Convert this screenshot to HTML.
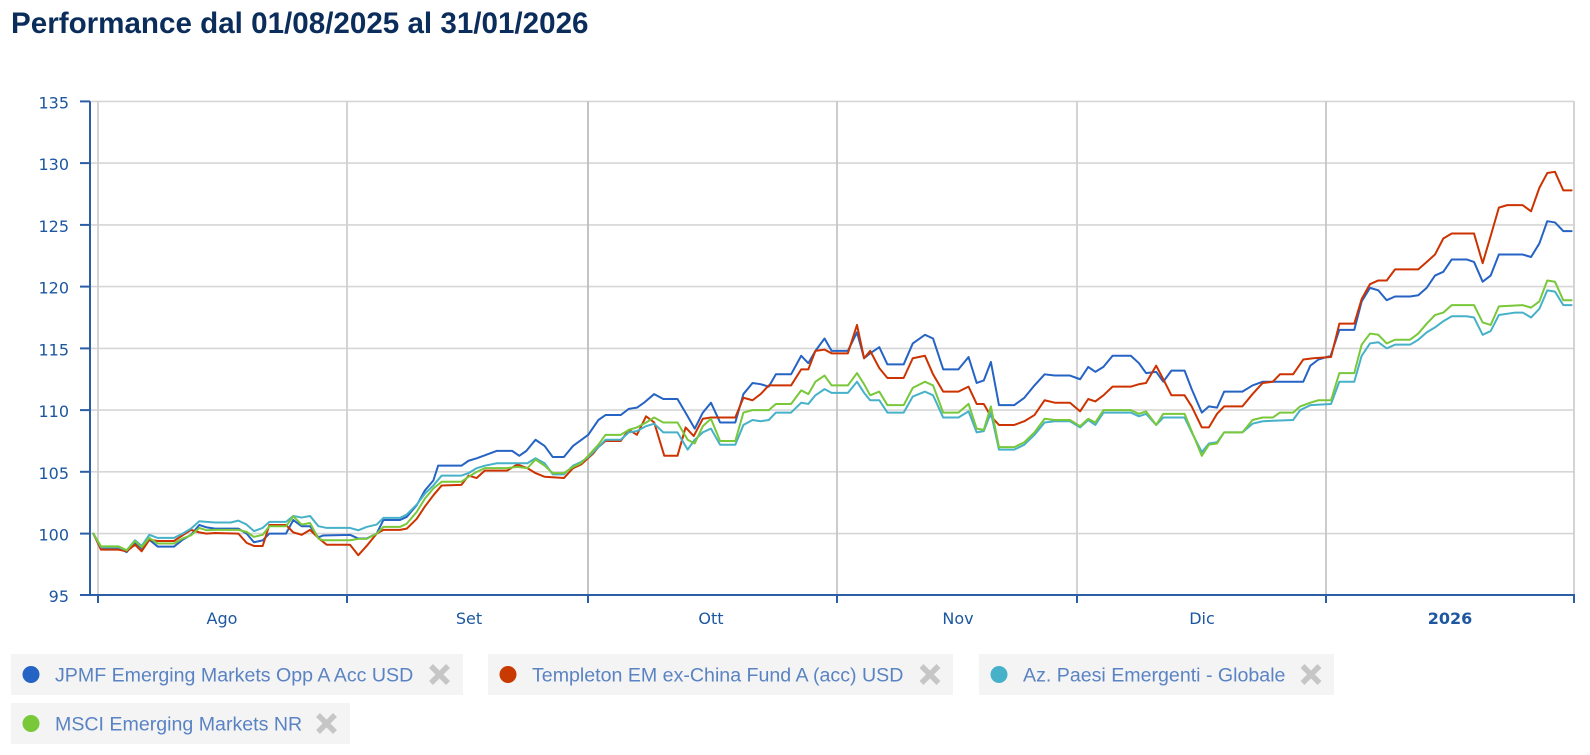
<!DOCTYPE html>
<html>
<head>
<meta charset="utf-8">
<style>
html,body{margin:0;padding:0;background:#fff;}
body{width:1590px;height:755px;overflow:hidden;}
svg{display:block;}
</style>
</head>
<body>
<svg width="1590" height="755" viewBox="0 0 1590 755" xmlns="http://www.w3.org/2000/svg">
  <rect x="0" y="0" width="1590" height="755" fill="#fff"/>
  <!-- Title -->
  <text x="11" y="33" font-family="Liberation Sans, Arial, sans-serif" font-weight="bold" font-size="29.6" fill="#0b2d5b">Performance dal 01/08/2025 al 31/01/2026</text>

  <!-- horizontal gridlines -->
  <g stroke="#d6d6d6" stroke-width="1.6">
    <line x1="90" y1="101.4" x2="1574" y2="101.4"/>
    <line x1="90" y1="163.1" x2="1574" y2="163.1"/>
    <line x1="90" y1="224.9" x2="1574" y2="224.9"/>
    <line x1="90" y1="286.6" x2="1574" y2="286.6"/>
    <line x1="90" y1="348.4" x2="1574" y2="348.4"/>
    <line x1="90" y1="410.1" x2="1574" y2="410.1"/>
    <line x1="90" y1="471.8" x2="1574" y2="471.8"/>
    <line x1="90" y1="533.6" x2="1574" y2="533.6"/>
  </g>
  <!-- vertical gridlines -->
  <g stroke="#d0d0d0" stroke-width="1.8">
    <line x1="98" y1="101.4" x2="98" y2="595"/>
    <line x1="347" y1="101.4" x2="347" y2="595"/>
    <line x1="588" y1="101.4" x2="588" y2="595" stroke="#bdbdbd"/>
    <line x1="837" y1="101.4" x2="837" y2="595" stroke="#c6c6c6"/>
    <line x1="1077" y1="101.4" x2="1077" y2="595"/>
    <line x1="1326" y1="101.4" x2="1326" y2="595" stroke="#c6c6c6"/>
    <line x1="1574" y1="101.4" x2="1574" y2="595"/>
  </g>

  <!-- axes -->
  <g stroke="#2a5fa5" stroke-width="2">
    <line x1="90" y1="101.4" x2="90" y2="595"/>
    <line x1="89" y1="595" x2="1575" y2="595"/>
    <line x1="80" y1="101.4" x2="90" y2="101.4"/>
    <line x1="80" y1="163.1" x2="90" y2="163.1"/>
    <line x1="80" y1="224.9" x2="90" y2="224.9"/>
    <line x1="80" y1="286.6" x2="90" y2="286.6"/>
    <line x1="80" y1="348.4" x2="90" y2="348.4"/>
    <line x1="80" y1="410.1" x2="90" y2="410.1"/>
    <line x1="80" y1="471.8" x2="90" y2="471.8"/>
    <line x1="80" y1="533.6" x2="90" y2="533.6"/>
    <line x1="80" y1="595" x2="90" y2="595"/>
    <line x1="98" y1="595" x2="98" y2="603"/>
    <line x1="347" y1="595" x2="347" y2="603"/>
    <line x1="588" y1="595" x2="588" y2="603"/>
    <line x1="837" y1="595" x2="837" y2="603"/>
    <line x1="1077" y1="595" x2="1077" y2="603"/>
    <line x1="1326" y1="595" x2="1326" y2="603"/>
    <line x1="1574" y1="595" x2="1574" y2="603"/>
  </g>

  <!-- y labels -->
  <g font-family="DejaVu Sans, Verdana, sans-serif" font-size="16" fill="#1d57a0" text-anchor="end">
    <text x="69" y="108.4">135</text>
    <text x="69" y="170.1">130</text>
    <text x="69" y="231.9">125</text>
    <text x="69" y="293.6">120</text>
    <text x="69" y="355.4">115</text>
    <text x="69" y="417.1">110</text>
    <text x="69" y="478.8">105</text>
    <text x="69" y="540.6">100</text>
    <text x="69" y="602">95</text>
  </g>
  <!-- x labels -->
  <g font-family="DejaVu Sans, Verdana, sans-serif" font-size="16" fill="#1d57a0" text-anchor="middle">
    <text x="222" y="624">Ago</text>
    <text x="469" y="624">Set</text>
    <text x="711" y="624">Ott</text>
    <text x="958" y="624">Nov</text>
    <text x="1202" y="624">Dic</text>
    <text x="1450" y="624" font-weight="bold">2026</text>
  </g>

  <!-- series -->
  <g transform="matrix(1.0142 0 0 -12.348 0 1768.4)" fill="none" stroke-width="2" stroke-linejoin="round" stroke-linecap="round">
    <polyline vector-effect="non-scaling-stroke" stroke="#2563c4" points="92,100 99.6,98.85 116.7,98.85 124.9,98.5 133.1,99.3 139.7,98.8 147.2,99.5 155.5,98.95 171.6,98.95 180.1,99.5 188.3,99.9 196.5,100.7 203.8,100.5 212,100.4 235,100.4 243.2,100 250.4,99.3 259,99.45 265.6,100 282,100 289.2,101.1 297.4,100.6 305.7,100.6 313.9,99.7 318.8,99.85 345.1,99.9 353.3,99.6 361.5,99.6 371.4,100 378,101.1 394.4,101.1 401,101.35 410.9,102.3 419,103.5 427.3,104.3 432,105.5 455,105.5 462,105.9 470,106.1 480,106.4 490,106.7 505,106.7 512,106.3 519,106.7 528,107.6 537,107.1 545,106.2 556,106.2 565,107.1 580,108 590,109.2 597,109.6 612,109.6 620,110.1 628,110.2 635,110.6 645,111.3 654,110.9 668,110.9 678,109.5 685,108.5 693,109.8 701,110.6 710,109 725,109 733,111.3 742,112.2 750,112.1 758,111.9 765,112.9 780,112.9 790,114.4 797,113.8 804,114.8 813,115.8 820,114.8 836,114.8 845,116.3 852,114.2 858,114.6 867,115.1 875,113.7 891,113.7 900,115.4 912,116.1 920,115.8 930,113.3 945,113.3 955,114.3 963,112.2 970,112.4 977,113.9 985,110.4 1000,110.4 1010,111 1020,112 1030,112.9 1040,112.8 1055,112.8 1065,112.5 1073,113.5 1080,113.1 1088,113.5 1097,114.4 1115,114.4 1123,113.8 1130,113 1140,113.1 1147,112.3 1155,113.2 1168,113.2 1175,111.7 1185,109.8 1192,110.3 1200,110.2 1207,111.5 1225,111.5 1235,112 1245,112.3 1285,112.3 1292,113.6 1300,114.1 1312,114.4 1320.6,116.5 1335.3,116.5 1342.6,118.8 1350.8,119.9 1359,119.7 1367.3,118.9 1375.5,119.2 1390.3,119.2 1398.4,119.3 1406.7,119.9 1414.9,120.9 1423.1,121.2 1431.4,122.2 1446.1,122.2 1453.4,122 1461.9,120.4 1469.8,120.9 1477.9,122.6 1501.4,122.6 1509.6,122.4 1517.8,123.5 1525.6,125.3 1533.2,125.2 1541.4,124.5 1549.6,124.5"/>
    <polyline vector-effect="non-scaling-stroke" stroke="#cc3300" points="92,100 99.6,98.7 116.7,98.7 124.9,98.57 133.1,99.1 139.7,98.57 147.2,99.5 155.5,99.4 171.6,99.4 180.1,99.86 188.3,100.3 196.5,100.1 203.8,100 212,100.05 235,100 243.2,99.25 250.4,99 259,99 265.6,100.7 282,100.7 289.2,100.1 297.4,99.9 305.7,100.3 313.9,99.65 322.1,99.1 345.1,99.1 353.3,98.25 361.5,99 371.4,100 378,100.3 394.4,100.3 401,100.4 410.9,101.2 419,102.2 427.3,103.1 435.5,103.9 455,103.95 462,104.7 470,104.5 478,105.1 500,105.1 510,105.6 520,105.3 528,104.9 537,104.6 556,104.5 565,105.3 573,105.6 585,106.5 590,107 597,107.5 612,107.5 620,108.4 628,108 637,109.5 645,109 655,106.3 668,106.3 676,108.6 684,107.9 693,109.3 701,109.4 725,109.4 733,111 742,110.8 750,111.3 758,112 780,112 790,113.3 797,113.3 804,114.8 813,114.9 820,114.6 836,114.6 845,116.9 852,114.2 858,114.8 867,113.4 875,112.6 891,112.6 900,114.2 912,114.4 920,112.9 930,111.5 945,111.5 955,111.9 963,110.5 970,110.5 977,109.5 985,108.8 1000,108.8 1010,109.1 1020,109.6 1030,110.8 1040,110.6 1055,110.6 1065,109.9 1073,110.9 1080,110.7 1088,111.2 1097,111.9 1115,111.9 1123,112.1 1130,112.2 1140,113.6 1147,112.5 1155,111.2 1168,111.2 1175,110.3 1185,108.6 1192,108.6 1200,109.7 1207,110.3 1225,110.3 1235,111.3 1245,112.2 1255,112.3 1262,112.9 1275,112.9 1285.1,114.1 1294.9,114.2 1312.4,114.3 1320.6,117 1335.3,117 1342.6,119 1350.8,120.2 1359,120.5 1367.3,120.5 1375.5,121.4 1398.4,121.4 1406.7,122 1414.9,122.6 1423.1,123.9 1431.4,124.3 1453.4,124.3 1461.9,121.9 1469.8,124.1 1477.9,126.4 1486.1,126.6 1501.4,126.6 1509.6,126.1 1517.8,128 1525.6,129.2 1533.2,129.3 1541.4,127.8 1549.6,127.8"/>
    <polyline vector-effect="non-scaling-stroke" stroke="#46b1c8" points="92,100 99.6,98.9 116.7,98.9 124.9,98.65 133.1,99.46 139.7,99 147.2,99.9 155.5,99.65 171.6,99.65 180.1,100 188.3,100.4 196.5,101 203.8,100.95 212,100.9 227.5,100.9 235,101.05 243.2,100.73 250.4,100.2 259,100.46 265.6,100.95 282,100.95 289.2,101.43 297.4,101.3 305.7,101.43 313.9,100.6 322.1,100.46 345.1,100.46 353.3,100.27 361.5,100.54 371.4,100.73 378,101.27 394.4,101.27 401,101.54 410.9,102.35 419,103.24 427.3,103.9 435.5,104.7 455,104.7 462,104.9 470,105.3 478,105.5 490,105.7 520,105.7 528,106.1 537,105.7 545,104.8 556,104.8 565,105.5 573,105.8 580,106.2 590,107 597,107.6 612,107.6 620,108.2 628,108.3 637,108.7 645,108.9 654,108.2 668,108.2 678,106.8 685,107.6 693,108.2 701,108.5 710,107.2 725,107.2 733,108.8 742,109.2 750,109.1 758,109.2 765,109.8 780,109.8 790,110.6 797,110.5 804,111.2 813,111.7 820,111.4 836,111.4 845,112.3 852,111.4 858,110.8 867,110.8 875,109.8 891,109.8 900,111.1 912,111.5 920,111.2 930,109.4 945,109.4 955,109.9 963,108.2 970,108.3 977,109.8 985,106.8 1000,106.8 1010,107.2 1020,108 1030,109 1040,109.1 1055,109.1 1065,108.6 1073,109.2 1080,108.8 1088,109.8 1115,109.8 1123,109.5 1130,109.7 1140,108.8 1147,109.4 1168,109.4 1175,108.2 1185,106.6 1192,107.3 1200,107.4 1207,108.2 1225,108.2 1235,108.9 1245,109.1 1275,109.2 1282,110 1292,110.4 1312.4,110.5 1320.6,112.3 1335.3,112.3 1342.6,114.4 1350.8,115.4 1359,115.5 1367.3,115 1375.5,115.3 1390.3,115.3 1398.4,115.7 1406.7,116.3 1414.9,116.7 1423.1,117.2 1431.4,117.6 1446.1,117.6 1453.4,117.5 1461.9,116.1 1469.8,116.4 1477.9,117.7 1494,117.9 1501.4,117.9 1509.6,117.5 1517.8,118.2 1525.6,119.7 1533.2,119.6 1541.4,118.5 1549.6,118.5"/>
    <polyline vector-effect="non-scaling-stroke" stroke="#78c83a" points="92,100 99.6,98.97 116.7,98.97 124.9,98.65 133.1,99.4 139.7,98.9 147.2,99.65 155.5,99.2 171.6,99.2 180.1,99.6 188.3,99.86 196.5,100.46 203.8,100.27 212,100.3 235,100.3 243.2,100.14 250.4,99.73 259,99.9 265.6,100.6 282,100.6 289.2,101.4 297.4,100.73 305.7,100.86 313.9,99.6 318.8,99.46 345.1,99.46 353.3,99.57 361.5,99.57 371.4,100 378,100.54 394.4,100.54 401,100.8 410.9,101.76 419,102.84 427.3,103.65 435.5,104.2 455,104.2 462,104.6 470,105 478,105.3 500,105.3 510,105.4 520,105.3 528,106 537,105.5 545,104.9 556,104.9 565,105.4 573,105.7 580,106.3 590,107.2 597,108 612,108 620,108.4 628,108.6 637,109 645,109.4 654,109 668,109 678,107.6 685,107.3 693,108.7 701,109.3 710,107.5 725,107.5 733,109.8 742,110 758,110 765,110.5 780,110.5 790,111.6 797,111.3 804,112.3 813,112.8 820,112 836,112 845,113 852,112.1 858,111.2 867,111.5 875,110.4 891,110.4 900,111.8 912,112.3 920,112 930,109.8 945,109.8 955,110.5 963,108.5 970,108.4 977,110.3 985,107 1000,107 1010,107.4 1020,108.2 1030,109.3 1040,109.2 1055,109.2 1065,108.7 1073,109.3 1080,109 1088,110 1115,110 1123,109.7 1130,109.9 1140,108.8 1147,109.7 1168,109.7 1175,108.3 1185,106.3 1192,107.2 1200,107.3 1207,108.2 1225,108.2 1235,109.2 1245,109.4 1255,109.4 1262,109.8 1275,109.8 1282,110.3 1292,110.6 1300,110.8 1312.4,110.8 1320.6,113 1335.3,113 1342.6,115.3 1350.8,116.2 1359,116.1 1367.3,115.4 1375.5,115.7 1390.3,115.7 1398.4,116.2 1406.7,117 1414.9,117.7 1423.1,117.9 1431.4,118.5 1453.4,118.5 1461.9,117.1 1469.8,116.9 1477.9,118.4 1501.4,118.5 1509.6,118.3 1517.8,118.8 1525.6,120.5 1533.2,120.4 1541.4,118.9 1549.6,118.9"/>
  </g>

  <!-- legend -->
  <g font-family="Liberation Sans, Arial, sans-serif" font-size="19.6" fill="#5a83c3">
    <rect x="11" y="654" width="452" height="41" fill="#f4f4f4"/>
    <circle cx="31" cy="674.5" r="8.5" fill="#2563c4"/>
    <text x="55" y="681.5">JPMF Emerging Markets Opp A Acc USD</text>
    <g stroke="#c6c6c6" stroke-width="5.5"><line x1="431" y1="666" x2="448" y2="683"/><line x1="448" y1="666" x2="431" y2="683"/></g>

    <rect x="488" y="654" width="465" height="41" fill="#f4f4f4"/>
    <circle cx="508" cy="674.5" r="8.5" fill="#c83a00"/>
    <text x="532" y="681.5">Templeton EM ex-China Fund A (acc) USD</text>
    <g stroke="#c6c6c6" stroke-width="5.5"><line x1="921.5" y1="666" x2="938.5" y2="683"/><line x1="938.5" y1="666" x2="921.5" y2="683"/></g>

    <rect x="979" y="654" width="355" height="41" fill="#f4f4f4"/>
    <circle cx="999" cy="674.5" r="8.5" fill="#46b1c8"/>
    <text x="1023" y="681.5">Az. Paesi Emergenti - Globale</text>
    <g stroke="#c6c6c6" stroke-width="5.5"><line x1="1302.5" y1="666" x2="1319.5" y2="683"/><line x1="1319.5" y1="666" x2="1302.5" y2="683"/></g>

    <rect x="11" y="703" width="339" height="41" fill="#f4f4f4"/>
    <circle cx="31" cy="723.5" r="8.5" fill="#78c83a"/>
    <text x="55" y="730.5">MSCI Emerging Markets NR</text>
    <g stroke="#c6c6c6" stroke-width="5.5"><line x1="318" y1="715" x2="335" y2="732"/><line x1="335" y1="715" x2="318" y2="732"/></g>
  </g>
</svg>
</body>
</html>
